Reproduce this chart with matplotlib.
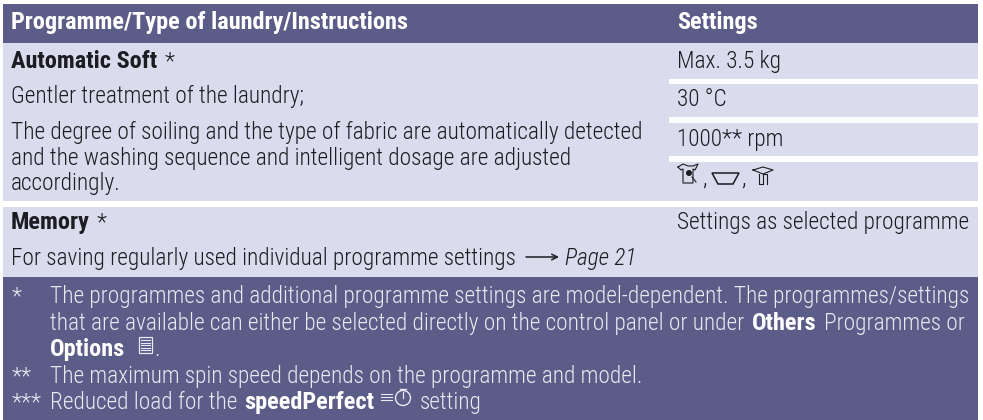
import matplotlib
matplotlib.use('Agg')
import matplotlib.pyplot as plt
from matplotlib.patches import Rectangle, Polygon, Circle

# Table text
header_left = 'Programme/Type of laundry/Instructions'
header_right = 'Settings'
settings_rows = ['Max. 3.5 kg', '30 °C', '1000** rpm']
auto_title = 'Automatic Soft'
auto_lines = ['Gentler treatment of the laundry;',
              'The degree of soiling and the type of fabric are automatically detected',
              'and the washing sequence and intelligent dosage are adjusted',
              'accordingly.']
memory_title = 'Memory'
memory_line = 'For saving regularly used individual programme settings'
memory_page = 'Page 21'
memory_setting = 'Settings as selected programme'
note_marks = ['*', '**', '***']
note_1 = ['The programmes and additional programme settings are model-dependent. The programmes/settings',
          'that are available can either be selected directly on the control panel or under']
note_2 = 'The maximum spin speed depends on the programme and model.'

DARK = '#5b5c87'
LIGHT = '#dadbec'
INK = '#1c1c22'
PALE = '#e9e9f3'
FONT = ['Roboto Condensed', 'Liberation Sans']
SIZE = 16.75
BOLD_SIZE = 17.5

fig = plt.figure(figsize=(9.83, 4.2), dpi=100)
ax = fig.add_axes([0, 0, 1, 1])
ax.set_xlim(0, 983)
ax.set_ylim(420, 0)
ax.axis('off')


def put(x, y, s, color=INK, weight=300, style='normal'):
    size = BOLD_SIZE if weight == 700 else SIZE
    ax.text(x, y + 1, s, color=color, fontweight=weight, fontstyle=style, fontsize=size,
            family=FONT, va='baseline', ha='left')


def box(x0, y0, x1, y1, color):
    ax.add_patch(Rectangle((x0, y0), x1 - x0, y1 - y0, fc=color, ec='none'))


# Panels
box(3, 4, 978, 43, DARK)
box(3, 43, 978, 201, LIGHT)
box(3, 207, 978, 277, LIGHT)
box(3, 277, 978, 420, DARK)
for y0, y1 in [(78.5, 84), (117, 122.7), (156, 161.7)]:
    box(669, y0, 978, y1, 'white')

# Header
put(11, 28, header_left, 'white', 700)
put(677, 28, header_right, 'white', 700)

# Automatic Soft row
put(11, 67, auto_title, weight=700)
put(165, 67, '*')
for y, s in zip([102, 138, 164, 189], auto_lines):
    put(11, y, s)
for y, s in zip([67, 105, 145], settings_rows):
    put(677, y, s)

# Care symbols: shirt, tub, hand wash
ax.plot([678, 683, 688, 693, 698, 695, 693, 693, 683, 683, 681, 678],
        [167, 164, 166, 166, 164, 170, 169, 183, 183, 169, 170, 167], color=INK, lw=0.8)
ax.add_patch(Circle((689, 173), 3.0, fc=INK, ec='none'))
ax.plot([692, 696], [177, 182], color=INK, lw=0.8)
put(702, 184, ',')
ax.add_patch(Polygon([(712, 173), (739, 173), (733, 184), (718, 184)], fc='none', ec=INK, lw=1.1))
put(741, 184, ',')
ax.plot([753, 763, 773, 763, 753], [170, 167, 170, 174, 170], color=INK, lw=0.8)
ax.plot([759, 759, 763, 763, 767, 767], [174, 184, 184, 174, 174, 184], color=INK, lw=0.8)

# Memory row
put(11, 228, memory_title, weight=700)
put(97, 228, '*')
put(11, 264, memory_line)
ax.annotate('', xy=(559, 257), xytext=(526, 257),
            arrowprops=dict(arrowstyle='->', color=INK, lw=1.1, shrinkA=0, shrinkB=0))
put(565, 264, memory_page, style='italic')
put(677, 228, memory_setting)

# Footnotes
put(12, 302, note_marks[0], PALE)
put(50, 302, note_1[0], PALE)
put(50, 329, note_1[1], PALE)
put(752, 329, 'Others', 'white', 700)
put(824, 329, 'Programmes or', PALE)
put(50, 355, 'Options', 'white', 700)
ax.add_patch(Rectangle((138.5, 337), 13, 16, fc='none', ec=PALE, lw=0.9))
for y in [340, 342.5, 345, 347.5, 350]:
    ax.plot([141, 150], [y, y], color=PALE, lw=0.8)
put(154, 355, '.', PALE)
put(12, 382, note_marks[1], PALE)
put(50, 382, note_2, PALE)
put(12, 408, note_marks[2], PALE)
put(50, 408, 'Reduced load for the', PALE)
put(244, 408, 'speedPerfect', 'white', 700)
for y in [394, 397, 400]:
    ax.plot([381, 392], [y, y], color=PALE, lw=0.8)
ax.add_patch(Circle((403, 398), 7.5, fc='none', ec=PALE, lw=1.0))
ax.plot([403, 403], [392, 398], color=PALE, lw=0.9)
ax.plot([400, 406], [388.5, 388.5], color=PALE, lw=1.0)
put(420, 408, 'setting', PALE)

plt.savefig('out.png', dpi=100)
